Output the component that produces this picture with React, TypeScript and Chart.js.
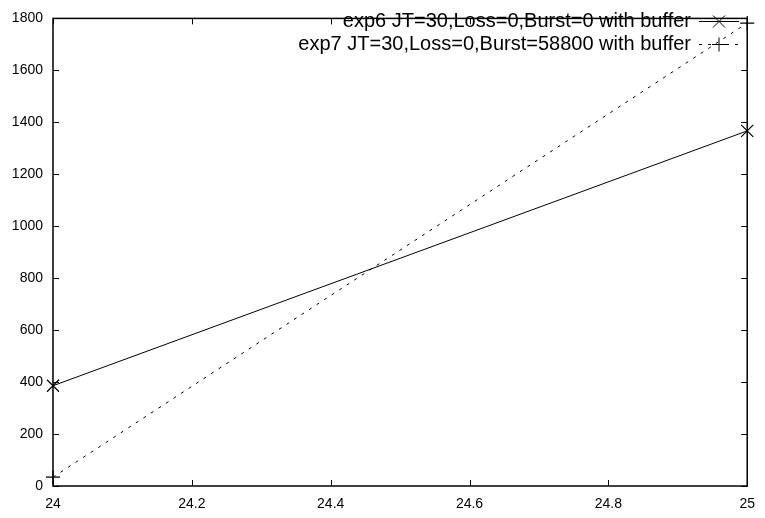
import React, { useEffect, useRef } from "react";
import { Chart, registerables } from "chart.js";

Chart.register(...registerables);

const xValues = [24, 25];
const exp6Values = [386, 1367];
const exp7Values = [34, 1782];
const seriesLabels = [
  "exp6 JT=30,Loss=0,Burst=0 with buffer",
  "exp7 JT=30,Loss=0,Burst=58800 with buffer",
];
const xTicks = [24, 24.2, 24.4, 24.6, 24.8, 25];
const yTicks = [0, 200, 400, 600, 800, 1000, 1200, 1400, 1600, 1800];

const FONT = "'Liberation Sans', Arial, Helvetica, sans-serif";

function drawMarker(ctx: CanvasRenderingContext2D, kind: string, x: number, y: number) {
  ctx.beginPath();
  if (kind === "x") {
    const r = 6;
    ctx.moveTo(x - r, y - r);
    ctx.lineTo(x + r, y + r);
    ctx.moveTo(x - r, y + r);
    ctx.lineTo(x + r, y - r);
  } else {
    const r = 7;
    ctx.moveTo(x - r, y);
    ctx.lineTo(x + r, y);
    ctx.moveTo(x, y - r);
    ctx.lineTo(x, y + r);
  }
  ctx.stroke();
}

const framePlugin = {
  id: "gnuframe",
  afterDraw(chart: any) {
    const { ctx, chartArea } = chart;
    const { left, right, top, bottom } = chartArea;
    ctx.save();
    ctx.strokeStyle = "#000";
    ctx.lineWidth = 1.5;
    ctx.setLineDash([]);
    ctx.strokeRect(left, top, right - left, bottom - top);
    const xs = chart.scales.x;
    const ys = chart.scales.y;
    const tl = 6;
    ctx.lineWidth = 1;
    ctx.beginPath();
    xs.ticks.forEach((t: any) => {
      const px = Math.round(xs.getPixelForValue(t.value)) + 0.5;
      ctx.moveTo(px, bottom);
      ctx.lineTo(px, bottom - tl);
      ctx.moveTo(px, top);
      ctx.lineTo(px, top + tl);
    });
    ys.ticks.forEach((t: any) => {
      const py = Math.round(ys.getPixelForValue(t.value)) + 0.5;
      ctx.moveTo(left, py);
      ctx.lineTo(left + tl, py);
      ctx.moveTo(right, py);
      ctx.lineTo(right - tl, py);
    });
    ctx.stroke();

    // legend, gnuplot style
    const textRight = 691;
    const sampleL = 699;
    const sampleR = 739;
    const rows = [21, 44];
    ctx.font = `20px ${FONT}`;
    ctx.fillStyle = "#000";
    ctx.textAlign = "right";
    ctx.textBaseline = "middle";
    chart.data.datasets.forEach((ds: any, i: number) => {
      const y = rows[i];
      ctx.fillText(ds.label, textRight, y);
      ctx.setLineDash(ds.borderDash || []);
      ctx.beginPath();
      ctx.moveTo(sampleL, y + 0.5);
      ctx.lineTo(sampleR, y + 0.5);
      ctx.stroke();
      ctx.setLineDash([]);
      drawMarker(ctx, i === 0 ? "x" : "+", (sampleL + sampleR) / 2, y + 0.5);
    });
    ctx.restore();
  },
};

const markerPlugin = {
  id: "gnumarkers",
  afterDatasetsDraw(chart: any) {
    const { ctx } = chart;
    ctx.save();
    ctx.strokeStyle = "#000";
    ctx.lineWidth = 1.2;
    ctx.setLineDash([]);
    chart.data.datasets.forEach((ds: any, i: number) => {
      const meta = chart.getDatasetMeta(i);
      meta.data.forEach((el: any) => {
        drawMarker(ctx, i === 0 ? "x" : "+", el.x, el.y);
      });
    });
    ctx.restore();
  },
};

export default function App() {
  const ref = useRef<HTMLCanvasElement | null>(null);
  useEffect(() => {
    document.body.style.margin = "0";
    const canvas = ref.current!;
    const chart = new Chart(canvas, {
      type: "scatter",
      data: {
        datasets: [
          {
            label: seriesLabels[0],
            data: xValues.map((x, i) => ({ x, y: exp6Values[i] })),
            showLine: true,
            borderColor: "#000",
            borderWidth: 1,
            pointRadius: 0,
            clip: false as any,
          },
          {
            label: seriesLabels[1],
            data: xValues.map((x, i) => ({ x, y: exp7Values[i] })),
            showLine: true,
            borderColor: "#000",
            borderWidth: 1,
            borderDash: [3, 6],
            pointRadius: 0,
            clip: false as any,
          },
        ],
      },
      options: {
        animation: false,
        responsive: false,
        layout: { padding: { top: 11, right: 11, left: 0, bottom: 0 } },
        plugins: { legend: { display: false }, tooltip: { enabled: false } },
        scales: {
          x: {
            type: "linear",
            min: 24,
            max: 25,
            afterBuildTicks: (s: any) => {
              s.ticks = xTicks.map((v) => ({ value: v }));
            },
            afterFit: (s: any) => {
              s.height = 32;
            },
            grid: { display: false, drawTicks: false },
            border: { display: false },
            ticks: {
              padding: 10,
              color: "#000",
              font: { family: FONT, size: 14 },
              maxRotation: 0,
              autoSkip: false,
              callback: (v: any) => String(Number(Number(v).toFixed(1))),
            },
          },
          y: {
            type: "linear",
            min: 0,
            max: 1800,
            afterBuildTicks: (s: any) => {
              s.ticks = yTicks.map((v) => ({ value: v }));
            },
            afterFit: (s: any) => {
              s.width = 53;
            },
            grid: { display: false, drawTicks: false },
            border: { display: false },
            ticks: {
              padding: 10,
              color: "#000",
              font: { family: FONT, size: 14 },
              autoSkip: false,
              callback: (v: any) => String(v),
            },
          },
        },
      },
      plugins: [markerPlugin, framePlugin],
    });
    return () => chart.destroy();
  }, []);
  return (
    <div style={{ width: 765, height: 518 }}>
      <canvas ref={ref} width={765} height={518} />
    </div>
  );
}
